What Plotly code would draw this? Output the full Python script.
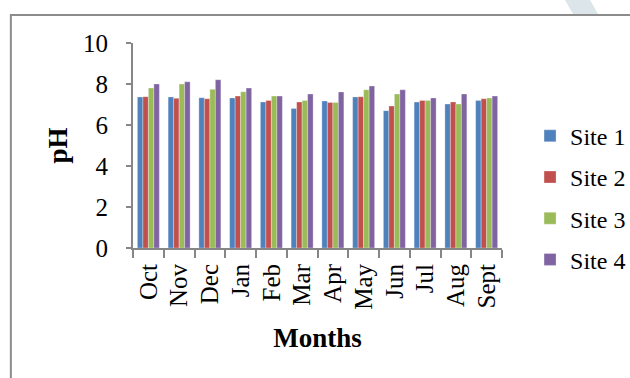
import plotly.graph_objects as go

months = ["Oct", "Nov", "Dec", "Jan", "Feb", "Mar", "Apr", "May", "Jun", "Jul", "Aug", "Sept"]
site1 = [7.37, 7.37, 7.33, 7.32, 7.12, 6.81, 7.17, 7.37, 6.70, 7.12, 7.02, 7.20]
site2 = [7.38, 7.30, 7.28, 7.41, 7.20, 7.12, 7.10, 7.38, 6.93, 7.20, 7.12, 7.28]
site3 = [7.80, 8.00, 7.74, 7.62, 7.41, 7.20, 7.10, 7.72, 7.51, 7.20, 7.02, 7.32]
site4 = [8.00, 8.11, 8.21, 7.80, 7.41, 7.51, 7.61, 7.90, 7.72, 7.32, 7.51, 7.41]
series_names = ["Site 1", "Site 2", "Site 3", "Site 4"]
colors = ["#4F81BD", "#C0504D", "#9BBB59", "#8064A2"]

font_family = "Liberation Serif, Times New Roman, serif"

fig = go.Figure()
for i, (name, vals) in enumerate(zip(series_names, [site1, site2, site3, site4])):
    fig.add_trace(go.Bar(
        x=months, y=vals, name=name, legendgroup=name,
        marker=dict(color=colors[i], line=dict(color="rgba(255,255,255,0.5)", width=0.6)),
    ))

fig.update_layout(
    width=630, height=378,
    margin=dict(l=133, r=128, t=43, b=130, autoexpand=False),
    paper_bgcolor="white", plot_bgcolor="white",
    barmode="group", bargap=0.285, bargroupgap=0,
    font=dict(family=font_family, size=25, color="black"),
    showlegend=True,
    legend=dict(
        x=1.076, y=0.655, xanchor="left", yanchor="top",
        font=dict(family=font_family, size=24),
        tracegroupgap=7, itemwidth=30, bgcolor="rgba(0,0,0,0)",
    ),
    xaxis=dict(
        automargin=False,
        showline=True, linecolor="#868686", linewidth=2,
        ticks="outside", tickson="boundaries", ticklen=8, tickcolor="#868686", tickwidth=2,
        ticklabelstandoff=4,
        tickangle=-90, tickfont=dict(size=25),
        title=dict(text="<b>Months</b>", font=dict(size=27), standoff=19),
    ),
    yaxis=dict(
        automargin=False,
        range=[0, 10], dtick=2, showgrid=False, zeroline=False,
        showline=True, linecolor="#868686", linewidth=2,
        ticks="outside", ticklen=5, tickcolor="#868686", tickwidth=2,
        ticklabelstandoff=13,
        tickfont=dict(size=25),
        title=dict(text="<b>pH</b>", font=dict(size=27), standoff=8),
    ),
    shapes=[
        dict(type="path", xref="paper", yref="paper",
             path="M 1.1707 1.2098 L 1.2385 1.2098 L 1.2602 1.1415 L 1.1924 1.1415 Z",
             line=dict(width=0), fillcolor="#DCE5EA", layer="below"),
        dict(type="rect", xref="paper", yref="paper",
             x0=-0.331, x1=2.0, y0=-1.0, y1=1.137,
             line=dict(color="#8C8C8C", width=2), fillcolor="rgba(0,0,0,0)", layer="below"),
    ],
)

fig.write_html(
    "out.html",
    config={"displayModeBar": False},
    post_script="document.body.style.margin='0';document.body.style.padding='0';",
)
